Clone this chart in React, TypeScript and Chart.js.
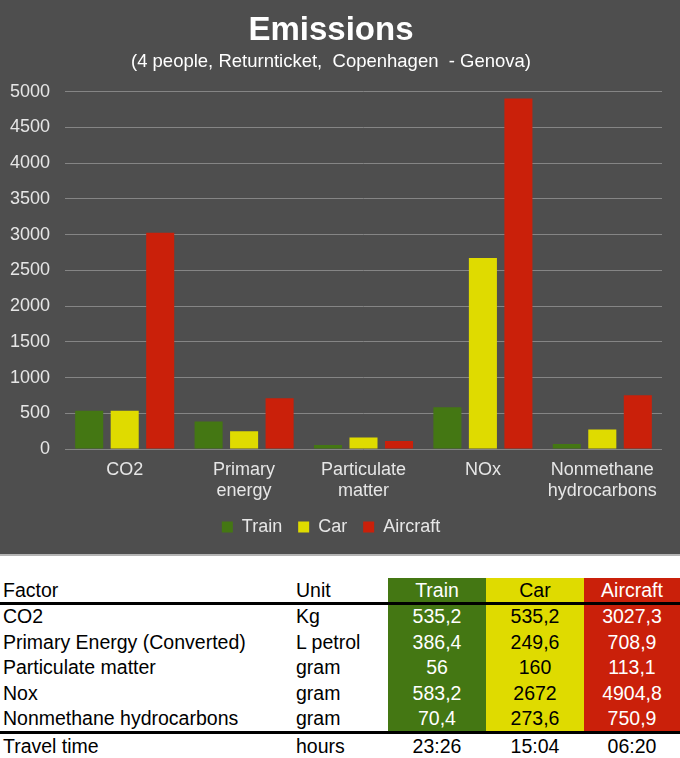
import React, { useEffect, useRef } from "react";
import { Chart, registerables } from "chart.js";

Chart.register(...registerables);

const categories: (string | string[])[] = [
  "CO2",
  ["Primary", "energy"],
  ["Particulate", "matter"],
  "NOx",
  ["Nonmethane", "hydrocarbons"],
];
const seriesNames = ["Train", "Car", "Aircraft"];
const trainValues = [535.2, 386.4, 56, 583.2, 70.4];
const carValues = [535.2, 249.6, 160, 2672, 273.6];
const aircraftValues = [3027.3, 708.9, 113.1, 4904.8, 750.9];

const tableFactors = [
  "CO2",
  "Primary Energy (Converted)",
  "Particulate matter",
  "Nox",
  "Nonmethane hydrocarbons",
];
const tableUnits = ["Kg", "L petrol", "gram", "gram", "gram"];
const tableTrain = ["535,2", "386,4", "56", "583,2", "70,4"];
const tableCar = ["535,2", "249,6", "160", "2672", "273,6"];
const tableAircraft = ["3027,3", "708,9", "113,1", "4904,8", "750,9"];
const travelTimes = ["23:26", "15:04", "06:20"];

const GREEN = "#447713";
const YELLOW = "#dfdb00";
const RED = "#ca200a";
const BG = "#4e4e4e";
const FONT = "Arial, 'Liberation Sans', sans-serif";

export default function App() {
  const ref = useRef<HTMLCanvasElement | null>(null);

  useEffect(() => {
    if (!ref.current) return;
    const chart = new Chart(ref.current, {
      type: "bar",
      data: {
        labels: categories,
        datasets: [
          { label: seriesNames[0], data: trainValues, backgroundColor: GREEN },
          { label: seriesNames[1], data: carValues, backgroundColor: YELLOW },
          { label: seriesNames[2], data: aircraftValues, backgroundColor: RED },
        ],
      },
      options: {
        responsive: false,
        animation: false,
        datasets: {
          bar: { categoryPercentage: 0.892, barPercentage: 0.79 },
        },
        layout: { padding: { left: 0, right: 18, top: 0, bottom: 8 } },
        plugins: {
          title: {
            display: true,
            text: "Emissions",
            color: "#ffffff",
            font: { family: FONT, size: 33, weight: "bold" },
            padding: { top: 11, bottom: 0 },
          },
          subtitle: {
            display: true,
            text: "(4 people, Returnticket,  Copenhagen  - Genova)",
            color: "#ffffff",
            font: { family: FONT, size: 18.5 },
            padding: { top: 0, bottom: 19 },
          },
          legend: {
            position: "bottom",
            labels: {
              color: "#e6e6e6",
              font: { family: FONT, size: 18 },
              boxWidth: 11,
              boxHeight: 11,
              padding: 16,
            },
          },
          tooltip: { enabled: false },
        },
        scales: {
          x: {
            grid: { display: false },
            border: { display: false },
            afterFit: (scale: any) => {
              scale.height = 53;
            },
            ticks: {
              color: "#e6e6e6",
              font: { family: FONT, size: 18 },
              padding: 2,
              maxRotation: 0,
              autoSkip: false,
            },
          },
          y: {
            min: 0,
            max: 5000,
            border: { display: false },
            grid: { color: "#858585", lineWidth: 1, drawTicks: false },
            afterFit: (scale: any) => {
              scale.width = 65;
            },
            ticks: {
              stepSize: 500,
              color: "#e6e6e6",
              font: { family: FONT, size: 18 },
              padding: 15,
              callback: (v: any) => String(v),
            },
          },
        },
      },
    });
    return () => chart.destroy();
  }, []);

  const rowTop = 604;
  const rowH = 25.5;
  const cols = [
    { left: 388, width: 98, bg: GREEN, color: "#ffffff" },
    { left: 486, width: 98, bg: YELLOW, color: "#000000" },
    { left: 584, width: 96, bg: RED, color: "#ffffff" },
  ];
  const colValues = [tableTrain, tableCar, tableAircraft];

  const textStyle = (left: number, top: number, width: number | undefined, height: number, align: "left" | "center", color = "#000") =>
    ({
      position: "absolute",
      left,
      top,
      width,
      height,
      lineHeight: `${height}px`,
      textAlign: align,
      color,
      fontFamily: FONT,
      fontSize: 19.5,
      whiteSpace: "pre",
    }) as React.CSSProperties;

  return (
    <div style={{ position: "relative", width: 680, height: 758, background: "#ffffff", overflow: "hidden" }}>
      <style>{`body{margin:0}`}</style>
      <div style={{ position: "absolute", left: 0, top: 0, width: 680, height: 554, background: BG }}>
        <canvas ref={ref} width={680} height={554} style={{ display: "block" }} />
      </div>
      <div style={{ position: "absolute", left: 0, top: 554, width: 680, height: 2, background: "#b4b4b4" }} />

      {cols.map((c, i) => (
        <div key={"bg" + i} style={{ position: "absolute", left: c.left, top: 578, width: c.width, height: 154, background: c.bg }} />
      ))}

      <div style={textStyle(3, 578, undefined, 24, "left")}>Factor</div>
      <div style={textStyle(296, 578, undefined, 24, "left")}>Unit</div>
      {cols.map((c, i) => (
        <div key={"h" + i} style={textStyle(c.left, 578, c.width, 24, "center", c.color)}>
          {seriesNames[i]}
        </div>
      ))}

      <div style={{ position: "absolute", left: 0, top: 602, width: 680, height: 2.5, background: "#000" }} />

      {tableFactors.map((f, r) => (
        <React.Fragment key={"r" + r}>
          <div style={textStyle(3, rowTop + r * rowH, undefined, rowH, "left")}>{f}</div>
          <div style={textStyle(296, rowTop + r * rowH, undefined, rowH, "left")}>{tableUnits[r]}</div>
          {cols.map((c, i) => (
            <div key={"c" + i} style={textStyle(c.left, rowTop + r * rowH, c.width, rowH, "center", c.color)}>
              {colValues[i][r]}
            </div>
          ))}
        </React.Fragment>
      ))}

      <div style={{ position: "absolute", left: 0, top: 731, width: 680, height: 2.5, background: "#000" }} />

      <div style={textStyle(3, 734, undefined, 25, "left")}>Travel time</div>
      <div style={textStyle(296, 734, undefined, 25, "left")}>hours</div>
      {cols.map((c, i) => (
        <div key={"t" + i} style={textStyle(c.left, 734, c.width, 25, "center")}>
          {travelTimes[i]}
        </div>
      ))}
    </div>
  );
}
